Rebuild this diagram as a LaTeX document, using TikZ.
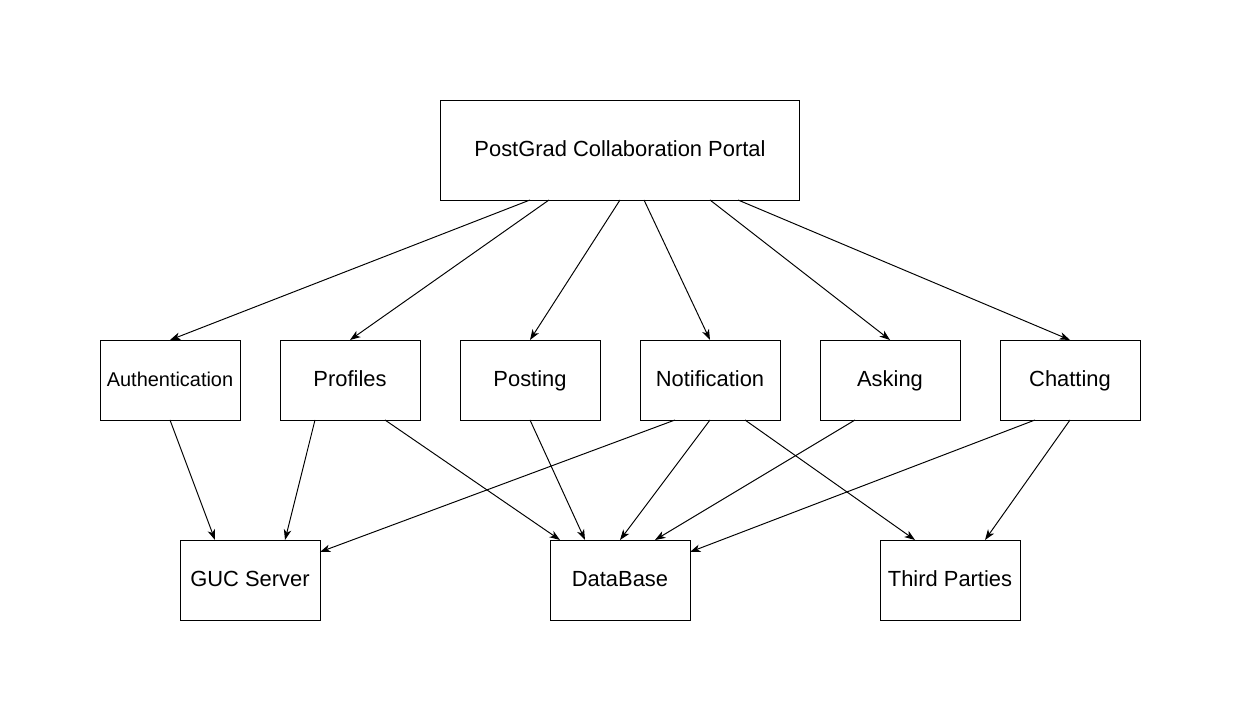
\documentclass[tikz,border=0pt]{standalone}
\usepackage{fontspec}
\setmainfont{Liberation Sans}
\usepackage{tikz}
\usetikzlibrary{calc, arrows.meta, positioning}

\tikzset{
  box/.style={draw=black, line width=0.55pt, fill=white, minimum width=2.8cm,
    minimum height=1.6cm, inner sep=0pt, outer sep=0pt,
    text height=0.72em, text depth=0em,
    font=\fontsize{12.47pt}{15pt}\selectfont},
  arr/.style={-{Stealth[length=2.1mm, width=1.5mm, inset=0.6mm]}, line width=0.55pt, black}
}

\begin{document}
\begin{tikzpicture}[x=0.02cm, y=-0.02cm]

\useasboundingbox (0,0) rectangle (1241,722);

% ------------------------------------------------------------------
% TOP LEVEL
% ------------------------------------------------------------------
\node[box, minimum width=7.2cm, minimum height=2cm] (portal) at (620,150) {PostGrad Collaboration Portal};

% ------------------------------------------------------------------
% MODULES
% ------------------------------------------------------------------
\node[box, font=\fontsize{11.34pt}{14pt}\selectfont] (auth) at (170,380) {Authentication};
\node[box] (prof) at (350,380) {Profiles};
\node[box] (post) at (530,380) {Posting};
\node[box] (noti) at (710,380) {Notification};
\node[box] (ask)  at (890,380) {Asking};
\node[box] (chat) at (1070,380) {Chatting};

% ------------------------------------------------------------------
% BACK END
% ------------------------------------------------------------------
\node[box] (guc)   at (250,580) {GUC Server};
\node[box] (db)    at (620,580) {DataBase};
\node[box] (third) at (950,580) {Third Parties};

% ------------------------------------------------------------------
% PORTAL -> MODULES
% ------------------------------------------------------------------
\foreach \dx/\m in {-90/auth, -71/prof, 0/post, 24/noti, 90/ask, 118/chat} {
  \draw[arr] ($(portal.south)+(\dx,0)$) -- (\m.north);
}

% ------------------------------------------------------------------
% MODULES -> BACK END
% ------------------------------------------------------------------
% GUC Server
\draw[arr] (auth.south) -- ($(guc.north)+(-35,0)$);
\draw[arr] ($(prof.south)+(-35,0)$) -- ($(guc.north)+(35,0)$);
\draw[arr] ($(noti.south)+(-35,0)$) -- ($(guc.north east)+(0,12)$);

% DataBase
\draw[arr] ($(prof.south)+(35,0)$) -- ($(db.north)+(-60,0)$);
\draw[arr] (post.south) -- ($(db.north)+(-35,0)$);
\draw[arr] (noti.south) -- (db.north);
\draw[arr] ($(ask.south)+(-35,0)$) -- ($(db.north)+(35,0)$);
\draw[arr] ($(chat.south)+(-35,0)$) -- ($(db.north east)+(0,12)$);

% Third Parties
\draw[arr] ($(noti.south)+(35,0)$) -- ($(third.north)+(-35,0)$);
\draw[arr] (chat.south) -- ($(third.north)+(35,0)$);

\end{tikzpicture}
\end{document}
